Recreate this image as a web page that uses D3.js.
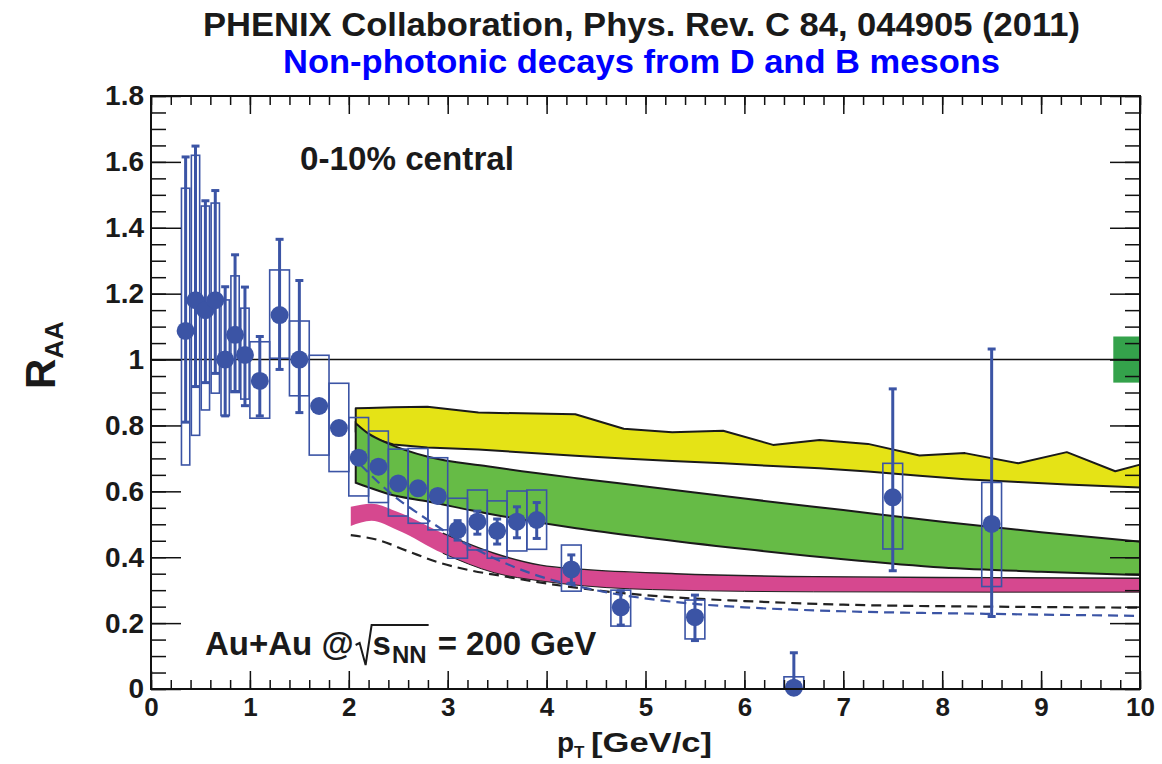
<!DOCTYPE html>
<html>
<head>
<meta charset="utf-8">
<script src="https://cdn.jsdelivr.net/npm/d3@7"></script>
<style>
  body { margin: 0; background: #fff; }
  svg { display: block; }
  text { font-family: "Liberation Sans", Arial, Helvetica, sans-serif; font-weight: bold; }
</style>
</head>
<body>
<svg id="chart" width="1162" height="764"></svg>
<script>
// ---- measured electron R_AA, 0-10% central Au+Au ----
const ptBins = [0.35, 0.45, 0.55, 0.65, 0.75, 0.85, 0.95, 1.1, 1.3, 1.5, 1.7, 1.9,
                2.1, 2.3, 2.5, 2.7, 2.9, 3.1, 3.3, 3.5, 3.7, 3.9, 4.25, 4.75, 5.5, 6.5, 7.5, 8.5];
const raaValues = [1.087, 1.18, 1.15, 1.18, 1.0, 1.075, 1.014, 0.935, 1.135, 1.0, 0.859, 0.792,
                   0.702, 0.675, 0.624, 0.609, 0.586, 0.483, 0.508, 0.48, 0.508, 0.513, 0.363, 0.248, 0.218, 0.004, 0.582, 0.501];
const statUpper = [1.615, 1.648, 1.482, 1.513, 1.221, 1.318, 1.22, 1.07, 1.365, 1.24, 0.875, 0.81,
                   0.72, 0.69, 0.64, 0.625, 0.605, 0.511, 0.54, 0.516, 0.553, 0.566, 0.407, 0.298, 0.285, 0.11, 0.911, 1.032];
const statLower = [0.81, 0.918, 0.93, 0.958, 0.829, 0.903, 0.86, 0.829, 0.97, 0.839, 0.845, 0.775,
                   0.685, 0.66, 0.61, 0.595, 0.568, 0.452, 0.47, 0.44, 0.459, 0.457, 0.321, 0.194, 0.147, 0.0, 0.359, 0.22];
const sysUpper = [1.52, 1.62, 1.466, 1.475, 1.181, 1.254, 1.156, 1.054, 1.272, 1.117, 1.013, 0.928,
                  0.824, 0.783, 0.728, 0.73, 0.702, 0.579, 0.604, 0.571, 0.601, 0.604, 0.437, 0.30, 0.27, 0.037, 0.685, 0.627];
const sysLower = [0.68, 0.77, 0.847, 0.898, 0.83, 0.90, 0.88, 0.822, 1.004, 0.89, 0.71, 0.66,
                  0.586, 0.566, 0.525, 0.503, 0.483, 0.397, 0.422, 0.397, 0.419, 0.424, 0.297, 0.191, 0.152, 0.0, 0.425, 0.311];
const sysHalfWidth = [0.042, 0.042, 0.042, 0.042, 0.042, 0.042, 0.042, 0.1, 0.1, 0.1, 0.1, 0.1,
                      0.1, 0.1, 0.1, 0.1, 0.1, 0.1, 0.1, 0.1, 0.1, 0.1, 0.1, 0.1, 0.1, 0.1, 0.1, 0.1];

// ---- model bands ----
const yellowPt = [2.07, 2.2, 2.45, 2.795, 3.31, 4.29, 4.78, 5.27, 5.785, 6.29, 6.76, 7.25, 7.77, 8.23, 8.77, 9.26, 9.75, 10];
const yellowHi = [0.852, 0.853, 0.855, 0.857, 0.839, 0.834, 0.79, 0.779, 0.784, 0.741, 0.756, 0.744, 0.709, 0.716, 0.685, 0.719, 0.661, 0.681];
const yellowLo = [0.78, 0.765, 0.742, 0.733, 0.727, 0.708, 0.70, 0.692, 0.685, 0.677, 0.67, 0.66, 0.647, 0.637, 0.628, 0.621, 0.615, 0.612];

const greenPt = [2.07, 2.2, 2.4, 2.8, 3.4, 4.3, 5.0, 6.0, 7.0, 8.0, 9.0, 10];
const greenHi = [0.807, 0.775, 0.745, 0.705, 0.676, 0.64, 0.615, 0.578, 0.543, 0.508, 0.476, 0.447];
const greenLo = [0.626, 0.612, 0.592, 0.569, 0.533, 0.488, 0.46, 0.425, 0.394, 0.369, 0.356, 0.346];

const magentaPt = [2.02, 2.23, 2.49, 2.95, 3.47, 3.94, 4.38, 5.3, 6.7, 8.5, 10];
const magentaHi = [0.553, 0.562, 0.538, 0.473, 0.412, 0.376, 0.363, 0.35, 0.341, 0.338, 0.336];
const magentaLo = [0.495, 0.511, 0.483, 0.412, 0.353, 0.328, 0.313, 0.30, 0.295, 0.294, 0.294];

// ---- model curves ----
const blackCurvePt = [2.02, 2.3, 2.6, 2.9, 3.2, 3.55, 4.05, 4.55, 5.3, 6.0, 7.0, 8.5, 10];
const blackCurveRaa = [0.467, 0.452, 0.418, 0.385, 0.362, 0.343, 0.318, 0.298, 0.278, 0.267, 0.256, 0.25, 0.247];
const blueCurvePt = [2.12, 2.4, 2.8, 3.1, 3.4, 3.9, 4.4, 5.3, 6.0, 7.0, 8.5, 10];
const blueCurveRaa = [0.68, 0.60, 0.513, 0.455, 0.407, 0.345, 0.306, 0.264, 0.248, 0.236, 0.228, 0.222];

// global normalisation uncertainty at R_AA = 1
const normBox = { ptFrom: 9.73, ptTo: 10, lo: 0.93, hi: 1.07 };

// ---- axis ticks ----
const xMajorTicks = [0, 1, 2, 3, 4, 5, 6, 7, 8, 9, 10];
const yMajorTicks = [0, 0.2, 0.4, 0.6, 0.8, 1.0, 1.2, 1.4, 1.6, 1.8];

const colors = {
  point: "#3b54a5", yellow: "#e5e316", green: "#66bb46", magenta: "#d6488f", norm: "#34a24b"
};

const svg = d3.select("#chart");
const x = d3.scaleLinear().domain([0, 10]).range([151, 1140]);
const y = d3.scaleLinear().domain([0, 1.8]).range([689, 96]);

const zipBand = (pt, lo, hi) => pt.map((p, i) => ({ pt: p, lo: lo[i], hi: hi[i] }));
const zipLine = (pt, v) => pt.map((p, i) => ({ pt: p, v: v[i] }));

const plot = svg.append("g");

// yellow band (jagged upper edge)
plot.append("path")
  .datum(zipBand(yellowPt, yellowLo, yellowHi))
  .attr("d", d3.area().x(d => x(d.pt)).y0(d => y(d.lo)).y1(d => y(d.hi)))
  .attr("fill", colors.yellow).attr("stroke", "#1a1a1a").attr("stroke-width", 2)
  .attr("stroke-linejoin", "round");

// green band
plot.append("path")
  .datum(zipBand(greenPt, greenLo, greenHi))
  .attr("d", d3.area().curve(d3.curveMonotoneX).x(d => x(d.pt)).y0(d => y(d.lo)).y1(d => y(d.hi)))
  .attr("fill", colors.green).attr("stroke", "#1a1a1a").attr("stroke-width", 2);

// magenta band
const magentaData = zipBand(magentaPt, magentaLo, magentaHi);
plot.append("path")
  .datum(magentaData)
  .attr("d", d3.area().curve(d3.curveMonotoneX).x(d => x(d.pt)).y0(d => y(d.lo)).y1(d => y(d.hi)))
  .attr("fill", colors.magenta);
const magentaEdge = magentaData.filter(d => d.pt >= 2.95);
["hi", "lo"].forEach(k => {
  plot.append("path")
    .datum(magentaEdge)
    .attr("d", d3.line().curve(d3.curveMonotoneX).x(d => x(d.pt)).y(d => y(d[k])))
    .attr("fill", "none").attr("stroke", "#222").attr("stroke-width", k === "hi" ? 1.4 : 1);
});

// dashed model curves
plot.append("path")
  .datum(zipLine(blackCurvePt, blackCurveRaa))
  .attr("d", d3.line().curve(d3.curveMonotoneX).x(d => x(d.pt)).y(d => y(d.v)))
  .attr("fill", "none").attr("stroke", "#222").attr("stroke-width", 2.2).attr("stroke-dasharray", "10 6");
plot.append("path")
  .datum(zipLine(blueCurvePt, blueCurveRaa))
  .attr("d", d3.line().curve(d3.curveMonotoneX).x(d => x(d.pt)).y(d => y(d.v)))
  .attr("fill", "none").attr("stroke", colors.point).attr("stroke-width", 2.2).attr("stroke-dasharray", "10 6");

// normalisation box and unity line
plot.append("rect")
  .attr("x", x(normBox.ptFrom)).attr("width", x(normBox.ptTo) - x(normBox.ptFrom))
  .attr("y", y(normBox.hi)).attr("height", y(normBox.lo) - y(normBox.hi))
  .attr("fill", colors.norm);
plot.append("line")
  .attr("x1", x(0)).attr("x2", x(10)).attr("y1", y(1)).attr("y2", y(1))
  .attr("stroke", "#111").attr("stroke-width", 1.5);

// data points
const points = ptBins.map((p, i) => ({
  pt: p, v: raaValues[i], sHi: statUpper[i], sLo: statLower[i],
  bHi: sysUpper[i], bLo: sysLower[i], hw: sysHalfWidth[i]
}));

const dataG = plot.append("g");
dataG.selectAll("rect.sys").data(points).join("rect").attr("class", "sys")
  .attr("x", d => x(d.pt - d.hw)).attr("width", d => x(d.pt + d.hw) - x(d.pt - d.hw))
  .attr("y", d => y(d.bHi)).attr("height", d => y(d.bLo) - y(d.bHi))
  .attr("fill", "none").attr("stroke", colors.point).attr("stroke-width", 1.6);

dataG.selectAll("line.stat").data(points).join("line").attr("class", "stat")
  .attr("x1", d => x(d.pt)).attr("x2", d => x(d.pt))
  .attr("y1", d => y(d.sHi)).attr("y2", d => y(d.sLo))
  .attr("stroke", colors.point).attr("stroke-width", 3);

const caps = points.flatMap(d => [{ pt: d.pt, v: d.sHi }, { pt: d.pt, v: d.sLo }]).filter(c => c.v > 0);
dataG.selectAll("line.cap").data(caps).join("line").attr("class", "cap")
  .attr("x1", d => x(d.pt) - 4).attr("x2", d => x(d.pt) + 4)
  .attr("y1", d => y(d.v)).attr("y2", d => y(d.v))
  .attr("stroke", colors.point).attr("stroke-width", 3);

dataG.selectAll("circle").data(points).join("circle")
  .attr("cx", d => x(d.pt)).attr("cy", d => y(d.v)).attr("r", 9)
  .attr("fill", colors.point);

// ---- frame with inward ticks on all sides ----
const frame = svg.append("g");
const minorX = d3.range(0, 10.0001, 0.2).map(v => +v.toFixed(2));
const minorY = d3.range(0, 1.8001, 0.05).map(v => +v.toFixed(2));

function tickAxis(axisFn, scale, values, size, transform) {
  const g = frame.append("g").attr("transform", transform)
    .call(axisFn(scale).tickValues(values).tickSize(-size).tickFormat(""));
  g.select(".domain").remove();
  g.selectAll(".tick line").attr("stroke", "#111").attr("stroke-width", 1.5);
}
tickAxis(d3.axisBottom, x, minorX, 9, `translate(0,${y(0)})`);
tickAxis(d3.axisBottom, x, xMajorTicks, 18, `translate(0,${y(0)})`);
tickAxis(d3.axisTop, x, minorX, 9, `translate(0,${y(1.8)})`);
tickAxis(d3.axisTop, x, xMajorTicks, 18, `translate(0,${y(1.8)})`);
tickAxis(d3.axisLeft, y, minorY, 15, `translate(${x(0)},0)`);
tickAxis(d3.axisLeft, y, yMajorTicks, 30, `translate(${x(0)},0)`);
tickAxis(d3.axisRight, y, minorY, 15, `translate(${x(10)},0)`);
tickAxis(d3.axisRight, y, yMajorTicks, 30, `translate(${x(10)},0)`);

frame.append("rect")
  .attr("x", x(0)).attr("y", y(1.8)).attr("width", x(10) - x(0)).attr("height", y(0) - y(1.8))
  .attr("fill", "none").attr("stroke", "#111").attr("stroke-width", 2);

// tick labels
const yLabels = frame.append("g").attr("transform", `translate(${x(0)},0)`)
  .call(d3.axisLeft(y).tickValues(yMajorTicks).tickSize(0).tickPadding(7)
    .tickFormat(d => String(+d.toFixed(1))));
yLabels.select(".domain").remove();
yLabels.selectAll("text").attr("font-size", 28).attr("fill", "#1a1a1a")
  .attr("font-family", '"Liberation Sans", Arial, sans-serif').attr("font-weight", "bold");

const xLabels = frame.append("g").attr("transform", `translate(0,${y(0)})`)
  .call(d3.axisBottom(x).tickValues(xMajorTicks).tickSize(0).tickPadding(9).tickFormat(d3.format("d")));
xLabels.select(".domain").remove();
xLabels.selectAll("text").attr("font-size", 26).attr("fill", "#1a1a1a")
  .attr("font-family", '"Liberation Sans", Arial, sans-serif').attr("font-weight", "bold");

// axis titles
const yTitle = svg.append("text")
  .attr("transform", "translate(55,389) rotate(-90)")
  .attr("font-size", 42).attr("fill", "#1a1a1a");
yTitle.append("tspan").text("R");
yTitle.append("tspan").attr("font-size", 26).attr("dy", 8).text("AA");

const xTitle = svg.append("text")
  .attr("x", 557).attr("y", 752).attr("font-size", 28).attr("fill", "#1a1a1a");
xTitle.append("tspan").text("p");
xTitle.append("tspan").attr("font-size", 17).attr("dy", 6).text("T");
xTitle.append("tspan").attr("dy", -6).attr("x", 591).attr("textLength", 121)
  .attr("lengthAdjust", "spacingAndGlyphs").text("[GeV/c]");

// titles
svg.append("text").attr("x", 203).attr("y", 36)
  .attr("font-size", 34).attr("fill", "#1a1a1a")
  .attr("textLength", 877).attr("lengthAdjust", "spacingAndGlyphs")
  .text("PHENIX Collaboration, Phys. Rev. C 84, 044905 (2011)");
svg.append("text").attr("x", 283).attr("y", 73)
  .attr("font-size", 34).attr("fill", "#0000ff")
  .attr("textLength", 717).attr("lengthAdjust", "spacingAndGlyphs")
  .text("Non-photonic decays from D and B mesons");

// annotations
svg.append("text").attr("x", 300).attr("y", 170).attr("font-size", 33).attr("fill", "#1a1a1a")
  .attr("textLength", 214).attr("lengthAdjust", "spacingAndGlyphs")
  .text("0-10% central");

// collision system label with a drawn radical over s_NN
const ann = svg.append("g").attr("fill", "#1a1a1a");
const base = 655;
const fs = 33;
const t1 = ann.append("text").attr("x", 205).attr("y", base).attr("font-size", fs).text("Au+Au @");
let cx = 205 + t1.node().getComputedTextLength() + 2;
const radStart = cx;
cx += 17;
const sT = ann.append("text").attr("x", cx).attr("y", base).attr("font-size", fs).text("s");
cx += sT.node().getComputedTextLength() + 1;
const nnT = ann.append("text").attr("x", cx).attr("y", base + 8).attr("font-size", 24).text("NN");
cx += nnT.node().getComputedTextLength() + 2;
ann.append("path")
  .attr("d", `M${radStart},${base - 10} L${radStart + 4},${base - 12} L${radStart + 10},${base + 10} L${radStart + 16},${base - 30} L${cx},${base - 30}`)
  .attr("fill", "none").attr("stroke", "#1a1a1a").attr("stroke-width", 2);
ann.append("text").attr("x", cx + 9).attr("y", base).attr("font-size", fs).text("= 200 GeV");
</script>
</body>
</html>
